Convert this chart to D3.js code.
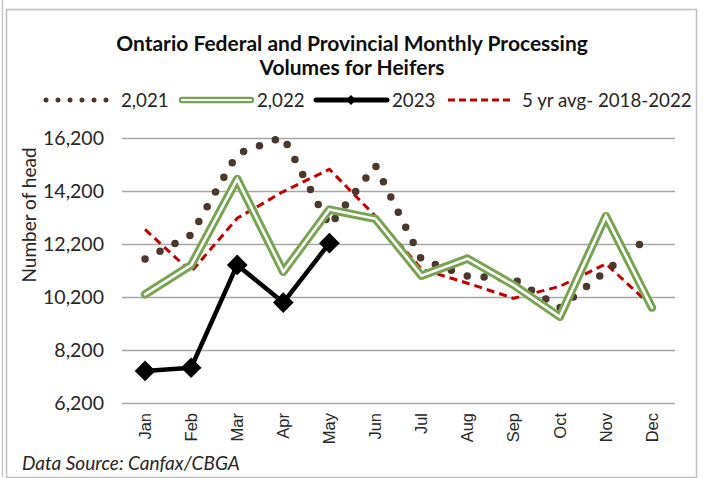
<!DOCTYPE html>
<html>
<head>
<meta charset="utf-8">
<script src="https://cdn.jsdelivr.net/npm/d3@7"></script>
<style>
  body { margin: 0; background: #fff; }
  svg { display: block; font-family: Lato, "Liberation Sans", sans-serif; }
</style>
</head>
<body>
<svg id="chart" width="703" height="478"></svg>
<script>
// values
const months = ["Jan", "Feb", "Mar", "Apr", "May", "Jun", "Jul", "Aug", "Sep", "Oct", "Nov", "Dec"];
const y2021 = [11630, 12540, 15600, 16240, 12880, 15160, 11610, 10990, 10880, 9790, 11180, 12560];
const y2022 = [10300, 11400, 14650, 11150, 13500, 13150, 11000, 11650, 10650, 9450, 13250, 9800];
const y2023 = [7410, 7530, 11410, 9990, 12230];
const avg5 = [12750, 11150, 13170, 14180, 15020, 13250, 11250, 10720, 10150, 10600, 11450, 9850];
const yTicks = [6200, 8200, 10200, 12200, 14200, 16200];

const svg = d3.select("#chart");
const plotLeft = 122, plotRight = 675, plotTop = 138, plotBottom = 403;

// frame
svg.append("line").attr("x1", 2.5).attr("x2", 2.5).attr("y1", 0).attr("y2", 477)
  .attr("stroke", "#bfbfbf").attr("stroke-width", 1.2);
svg.append("rect").attr("x", 6.5).attr("y", 9.5).attr("width", 690).attr("height", 468)
  .attr("fill", "none").attr("stroke", "#bfbfbf").attr("stroke-width", 1.5);

const x = d3.scaleBand().domain(months).range([plotLeft, plotRight]);
const y = d3.scaleLinear().domain([6200, 16200]).range([plotBottom, plotTop]);
const cx = m => x(m) + x.bandwidth() / 2;

// y axis + gridlines
const yAxis = svg.append("g")
  .attr("transform", "translate(" + plotLeft + ",0)")
  .call(d3.axisLeft(y).tickValues(yTicks).tickSize(-(plotRight - plotLeft)).tickPadding(18).tickFormat(d3.format(",")));
yAxis.select(".domain").remove();
yAxis.selectAll("line").attr("stroke", "#a6a6a6").attr("stroke-width", 1.6);
yAxis.selectAll("text").attr("font-family", "Lato").attr("font-size", 19.5).attr("fill", "#262626");

// x axis labels
const xAxis = svg.append("g")
  .attr("transform", "translate(0," + plotBottom + ")")
  .call(d3.axisBottom(x).tickSize(0).tickPadding(0));
xAxis.select(".domain").remove();
xAxis.selectAll("text")
  .attr("font-family", "Liberation Sans, Arial, sans-serif")
  .attr("font-size", 16.5).attr("fill", "#262626")
  .attr("transform", "translate(0,10) rotate(-90)")
  .attr("y", 0).attr("dy", "0.35em")
  .style("text-anchor", "end");

const line = d3.line().x((d, i) => cx(months[i])).y(d => y(d));

// 5 yr avg
svg.append("path").datum(avg5).attr("d", line)
  .attr("fill", "none").attr("stroke", "#c00000").attr("stroke-width", 3)
  .attr("stroke-dasharray", "8,5");

// 2021 round dots
svg.append("path").datum(y2021).attr("d", line)
  .attr("fill", "none").attr("stroke", "#4b372b").attr("stroke-width", 7.5)
  .attr("stroke-linecap", "round").attr("stroke-dasharray", "0,16.9");

// 2022 double line
svg.append("path").datum(y2022).attr("d", line)
  .attr("fill", "none").attr("stroke", "#77a451").attr("stroke-width", 8.5)
  .attr("stroke-linejoin", "round").attr("stroke-linecap", "round");
svg.append("path").datum(y2022).attr("d", line)
  .attr("fill", "none").attr("stroke", "#fff").attr("stroke-width", 2.6)
  .attr("stroke-linejoin", "miter").attr("stroke-linecap", "round");

// 2023
svg.append("path").datum(y2023).attr("d", line)
  .attr("fill", "none").attr("stroke", "#000").attr("stroke-width", 4.5)
  .attr("stroke-linejoin", "round");
const diamond = d3.symbol().type(d3.symbolSquare).size(215);
svg.selectAll(".m23").data(y2023).enter().append("path")
  .attr("d", diamond)
  .attr("transform", (d, i) => "translate(" + cx(months[i]) + "," + y(d) + ") rotate(45)")
  .attr("fill", "#000");

// title
svg.append("text").attr("x", 352).attr("y", 51).attr("text-anchor", "middle")
  .attr("font-size", 21).attr("font-weight", "bold").attr("fill", "#0d0d0d")
  .text("Ontario Federal and Provincial Monthly Processing");
svg.append("text").attr("x", 352).attr("y", 75).attr("text-anchor", "middle")
  .attr("font-size", 21).attr("font-weight", "bold").attr("fill", "#0d0d0d")
  .text("Volumes for Heifers");

// legend
const ly = 100;
const lg = svg.append("g").attr("font-size", 18.7).attr("fill", "#262626");
lg.append("line").attr("x1", 46).attr("x2", 118).attr("y1", ly).attr("y2", ly)
  .attr("stroke", "#4b372b").attr("stroke-width", 5).attr("stroke-linecap", "round")
  .attr("stroke-dasharray", "0,12");
lg.append("text").attr("x", 121).attr("y", ly).attr("dy", "0.35em").text("2,021");
lg.append("line").attr("x1", 182).attr("x2", 251).attr("y1", ly).attr("y2", ly)
  .attr("stroke", "#77a451").attr("stroke-width", 6.5).attr("stroke-linecap", "round");
lg.append("line").attr("x1", 182).attr("x2", 251).attr("y1", ly).attr("y2", ly)
  .attr("stroke", "#fff").attr("stroke-width", 2.2).attr("stroke-linecap", "round");
lg.append("text").attr("x", 257).attr("y", ly).attr("dy", "0.35em").text("2,022");
lg.append("line").attr("x1", 316).attr("x2", 387).attr("y1", ly).attr("y2", ly)
  .attr("stroke", "#000").attr("stroke-width", 5).attr("stroke-linecap", "round");
lg.append("path").attr("d", d3.symbol().type(d3.symbolSquare).size(50))
  .attr("transform", "translate(351," + ly + ") rotate(45)").attr("fill", "#000");
lg.append("text").attr("x", 392).attr("y", ly).attr("dy", "0.35em").text("2023");
lg.append("line").attr("x1", 448).attr("x2", 512).attr("y1", ly).attr("y2", ly)
  .attr("stroke", "#c00000").attr("stroke-width", 3).attr("stroke-dasharray", "7,4");
lg.append("text").attr("x", 522).attr("y", ly).attr("dy", "0.35em").text("5 yr avg- 2018-2022");

// axis title
svg.append("text").attr("transform", "translate(36,215) rotate(-90)")
  .attr("text-anchor", "middle").attr("font-size", 19).attr("fill", "#262626")
  .text("Number of head");

// source
svg.append("text").attr("x", 22).attr("y", 470).attr("font-size", 19)
  .attr("font-style", "italic").attr("fill", "#262626")
  .text("Data Source: Canfax/CBGA");
</script>
</body>
</html>
